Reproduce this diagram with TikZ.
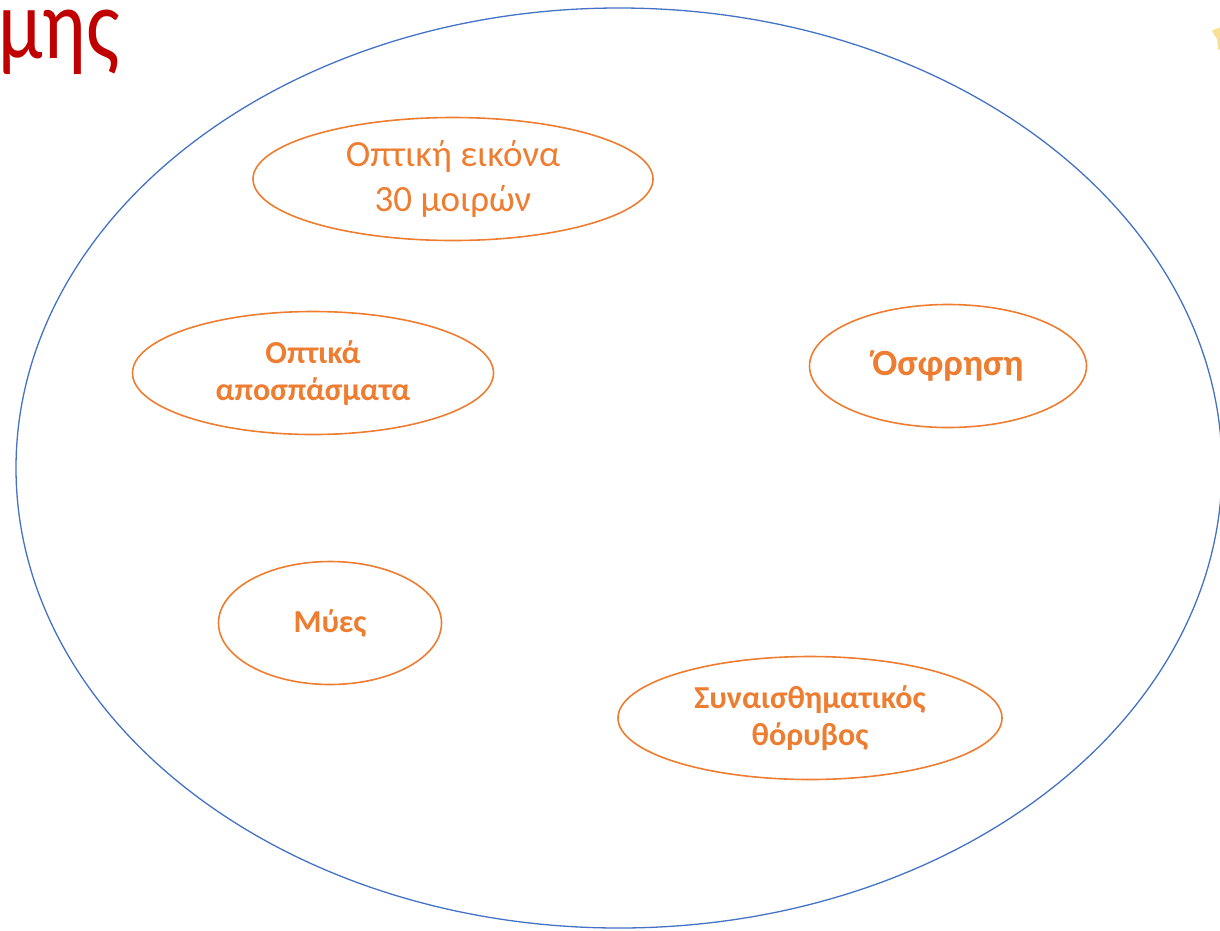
\documentclass[tikz,border=0pt]{standalone}
\usepackage{fontspec}
\setmainfont{Carlito}
\usepackage{xcolor}
\usetikzlibrary{shapes.geometric,positioning}
\definecolor{ringblue}{HTML}{4472C4}
\definecolor{ovalorange}{HTML}{ED7D31}
\definecolor{titlered}{HTML}{C00000}
\definecolor{staryellow}{HTML}{F2C94C}

\begin{document}
\begin{tikzpicture}[x=1pt,y=-1pt,
    oval/.style={ellipse, draw=ovalorange, line width=1.6pt, text=ovalorange,
      align=center, inner sep=0pt, minimum height=123pt},
    boldtext/.style={font=\fontsize{32}{37}\selectfont\bfseries}]

    \useasboundingbox (0,0) rectangle (1220,930);

    % Outer ring
    \node[ellipse, draw=ringblue, line width=1.3pt, minimum width=1206pt,
      minimum height=920pt, inner sep=0pt] (ring) at (619,468) {};

    % Title fragment and corner mark
    \node[anchor=base west, inner sep=0pt, text=titlered,
      font=\fontsize{100}{110}\selectfont] (title) at (-2,58) {\scalebox{0.81}[1]{μης}};
    \node[star, star points=5, fill=staryellow, opacity=0.6, minimum size=34pt,
      inner sep=0pt] (mark) at (1228,36) {};

    % Ovals
    \node[oval, minimum width=400pt, font=\fontsize{37}{45}\selectfont] (view) at (453,179)
      {\raisebox{-3pt}{Οπτική εικόνα}\\\raisebox{-3pt}{30 μοιρών}};
    \node[oval, boldtext, minimum width=361pt] (fragments) at (313,373)
      {Οπτικά\\αποσπάσματα};
    \node[oval, minimum width=277pt, font=\fontsize{37}{44}\selectfont\bfseries] (smell) at (948,366)
      {\raisebox{-4pt}{Όσφρηση}};
    \node[oval, boldtext, minimum width=223pt] (muscles) at (330,623) {\raisebox{-2pt}{Μύες}};
    \node[oval, boldtext, minimum width=384pt] (noise) at (810,718)
      {Συναισθηματικός\\θόρυβος};

\end{tikzpicture}
\end{document}
